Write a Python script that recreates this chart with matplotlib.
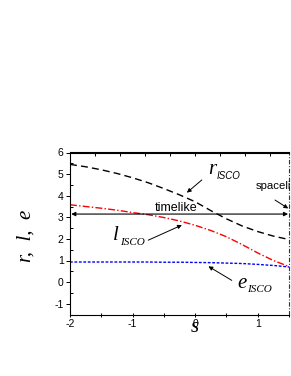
import numpy as np
import matplotlib
matplotlib.use("Agg")
import matplotlib.pyplot as plt
from matplotlib.ticker import MultipleLocator, FixedLocator

# ---- data ----
s_vals = [-2.0, -1.75, -1.5, -1.25, -1.0, -0.75, -0.5, -0.25, 0.0, 0.25, 0.5, 0.75, 1.0, 1.25, 1.5]
r_isco = [5.45, 5.34, 5.20, 5.03, 4.83, 4.60, 4.33, 4.04, 3.72, 3.31, 2.93, 2.60, 2.34, 2.13, 1.97]
l_isco = [3.58, 3.50, 3.42, 3.33, 3.22, 3.12, 2.99, 2.83, 2.63, 2.39, 2.10, 1.74, 1.35, 1.00, 0.72]
e_isco = [0.93, 0.93, 0.93, 0.93, 0.93, 0.93, 0.92, 0.92, 0.91, 0.90, 0.88, 0.86, 0.82, 0.77, 0.70]
timelike_level = 3.15
s_boundary = 1.5
x_ticks = [-2, -1, 0, 1]
y_ticks = [-1, 0, 1, 2, 3, 4, 5, 6]

plt.rcParams['font.family'] = ['Liberation Sans', 'DejaVu Sans']
serif = ['Liberation Serif', 'DejaVu Serif']

fig = plt.figure(figsize=(2.91, 3.76), dpi=100)
ax = fig.add_axes([70/291, 1-314.5/376, (289-70)/291, (314.5-152.5)/376])

ax.plot(s_vals, r_isco, color='black', lw=1.0, ls=(0, (5, 3)))
ax.plot(s_vals, l_isco, color='#ff0000', lw=1.0, ls=(0, (5, 1.6, 1, 1.6)))
ax.plot(s_vals, e_isco, color='#0000ff', lw=1.0, ls=(0, (2, 1.2)))

ax.set_xlim(-2, s_boundary)
ax.set_ylim(-1.5, 6)
ax.spines['right'].set_visible(False)
for sp in ['left', 'bottom', 'top']:
    ax.spines[sp].set_linewidth(0.8)
ax.axvline(s_boundary, color='#333333', lw=0.8, ls=(0, (4, 1.5, 1, 1.5)), clip_on=False)

ax.xaxis.set_major_locator(FixedLocator(x_ticks))
ax.xaxis.set_minor_locator(MultipleLocator(0.5))
ax.yaxis.set_major_locator(FixedLocator(y_ticks))
ax.yaxis.set_minor_locator(MultipleLocator(0.5))
ax.tick_params(axis='x', which='both', direction='inout', length=3.5, width=0.7,
               labelsize=7.5, pad=1.5, top=False)
ax.tick_params(axis='y', which='major', direction='out', length=3, width=0.7,
               labelsize=7.5, pad=1.5)
ax.tick_params(axis='y', which='minor', direction='in', length=2, width=0.7)
ax.set_xticklabels(['-2', '-1', '0', '1'])
ax.set_yticklabels([str(v) for v in y_ticks])

sec = ax.secondary_xaxis('top')
sec.set_xticks(np.arange(-2, 1.41, 0.4))
sec.tick_params(direction='in', length=3, width=0.7, labeltop=False)
sec.spines['top'].set_linewidth(0.8)

# axis labels
fig.text(26/291, 1-236/376, 'r,  l,  e', rotation=90, family=serif, style='italic',
         fontsize=15, ha='center', va='center')
fig.text(195/291, 1-327/376, 's', family=serif, style='italic', fontsize=15,
         ha='center', va='center')

arrow_kw = dict(arrowstyle='-|>', color='black', lw=0.7, mutation_scale=6, shrinkA=0, shrinkB=0)

# timelike double arrow
ax.annotate('', xy=(-1.98, timelike_level), xytext=(1.485, timelike_level),
            arrowprops=dict(arrowstyle='<|-|>', color='black', lw=0.8, mutation_scale=6,
                            shrinkA=0, shrinkB=0), annotation_clip=False)
ax.text(-0.64, timelike_level + 0.02, 'timelike', fontsize=9, ha='left', va='bottom')

# spacelike
ax.text(0.97, 4.47, 'spacelike', fontsize=8.2, ha='left', va='center', clip_on=False)
ax.annotate('', xy=(1.488, 3.41), xytext=(1.276, 3.80), arrowprops=arrow_kw)

# r_ISCO
ax.annotate('', xy=(-0.132, 4.14), xytext=(0.107, 4.73), arrowprops=arrow_kw)
ax.text(0.20, 5.0, 'r', family=serif, style='italic', fontsize=15, ha='left', va='baseline')
ax.text(0.35, 4.78, 'ISCO', style='italic', fontsize=7, ha='left', va='baseline')

# l_ISCO
ax.annotate('', xy=(-0.212, 2.64), xytext=(-0.75, 1.94), arrowprops=arrow_kw)
ax.text(-1.31, 1.95, 'l', family=serif, style='italic', fontsize=15, ha='left', va='baseline')
ax.text(-1.2, 1.72, 'ISCO', family=serif, style='italic', fontsize=8, ha='left', va='baseline')

# e_ISCO
ax.annotate('', xy=(0.212, 0.73), xytext=(0.585, 0.08), arrowprops=arrow_kw)
ax.text(0.68, -0.25, 'e', family=serif, style='italic', fontsize=15, ha='left', va='baseline')
ax.text(0.83, -0.45, 'ISCO', family=serif, style='italic', fontsize=8, ha='left', va='baseline')

fig.savefig('out.png', dpi=100)
